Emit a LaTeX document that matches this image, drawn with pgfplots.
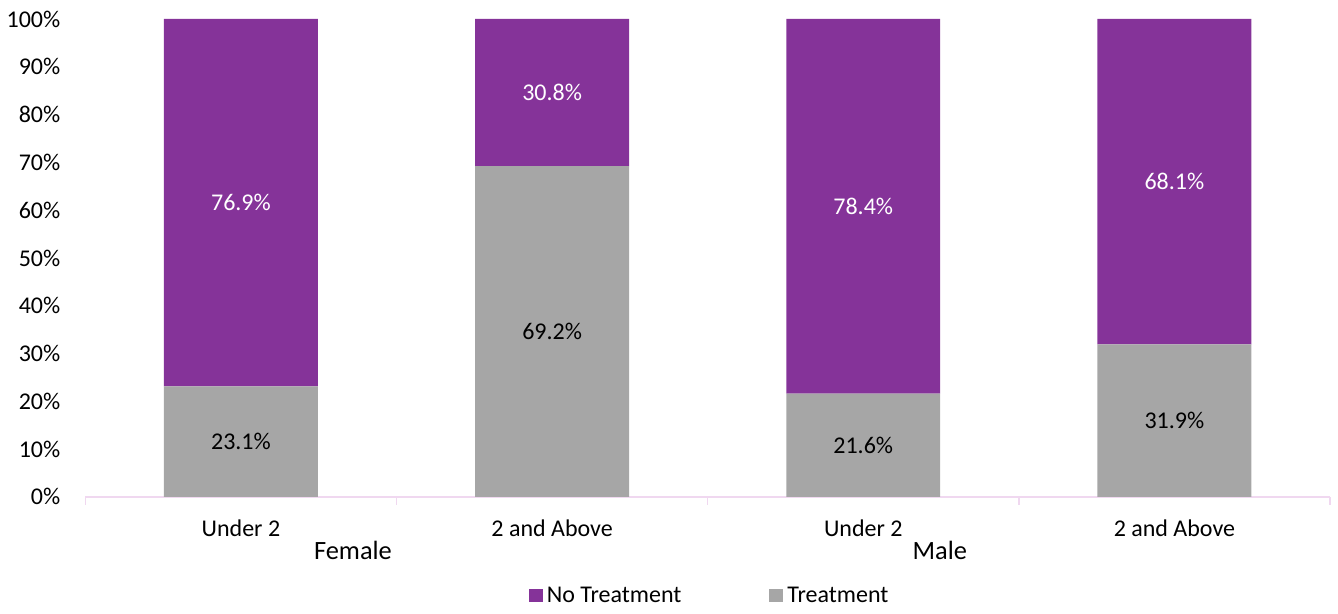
\documentclass[border=0pt]{standalone}
\usepackage{pgfplots}
\usepackage{pgfplotstable}
\pgfplotsset{compat=1.18}
\usepackage{fontspec}
\setmainfont{Carlito}
\definecolor{notreat}{RGB}{133,51,153}
\definecolor{treat}{RGB}{166,166,166}
\definecolor{axisline}{RGB}{240,216,240}
% shares (%) by sex and age group: 0,1 = Female; 2,3 = Male
\pgfplotstableread{
x treat notreat
0 23.1  76.9
1 69.2  30.8
2 21.6  78.4
3 31.9  68.1
}\shares
\begin{document}
\begin{tikzpicture}[font=\fontsize{12}{14}\selectfont]
\begin{axis}[
  name=ax,
  scale only axis,
  clip=false,
  width=622.5pt, height=239pt,
  ybar stacked,
  bar width=77pt,
  xmin=-0.5, xmax=3.5,
  ymin=0, ymax=100,
  axis x line*=bottom,
  axis y line*=left,
  x axis line style={draw=axisline, line width=0.8pt, -},
  y axis line style={draw=none},
  /pgf/number format/assume math mode=true,
  % separator ticks between the categories
  xtick={-0.5,0.5,1.5,2.5,3.5},
  xticklabels={,,,,},
  major tick length=4pt,
  tick align=outside,
  xtick style={draw=axisline, line width=0.8pt},
  % category names
  extra x ticks={0,1,2,3},
  extra x tick labels={Under 2,2 and Above,Under 2,2 and Above},
  extra x tick style={major tick length=0pt, xtick style={draw=none},
    xticklabel style={anchor=base, yshift=-20pt}},
  ytick={0,10,...,100},
  yticklabel={\pgfmathprintnumber{\tick}\%},
  ytick style={draw=none},
  yticklabel style={xshift=-5pt},
  % value labels in the middle of each segment
  nodes near coords={\pgfmathprintnumber[fixed,fixed zerofill,precision=1]{\pgfplotspointmeta}\%},
  every node near coord/.append style={font=\fontsize{12}{14}\selectfont,
    anchor=center},
  legend columns=2,
  reverse legend,
  legend style={draw=none, fill=none, at={(0.5,0)}, anchor=center,
    xshift=1.5pt, yshift=-49.5pt, font=\fontsize{12}{14}\selectfont,
    /tikz/every even column/.append style={column sep=42pt},
    nodes={inner sep=2pt}},
  legend image code/.code={\fill[#1] (0pt,-3.25pt) rectangle (7pt,3.25pt);},
]
\addplot[fill=treat, draw=none,
  every node near coord/.append style={text=black}]
  table[x=x, y=treat] {\shares};
\addlegendentry{Treatment}
\addplot[fill=notreat, draw=none,
  every node near coord/.append style={text=white}]
  table[x=x, y=notreat] {\shares};
\addlegendentry{No Treatment}
\node[anchor=base, font=\fontsize{13.2}{15}\selectfont]
  at ([yshift=-31.5pt]axis cs:0.36,0) {Female};
\node[anchor=base, font=\fontsize{13.2}{15}\selectfont]
  at ([yshift=-31.5pt]axis cs:2.246,0) {Male};
\end{axis}
\path ([xshift=-42.5pt,yshift=-55pt]ax.south west) rectangle ([xshift=4pt,yshift=9.5pt]ax.north east);
\end{tikzpicture}
\end{document}
